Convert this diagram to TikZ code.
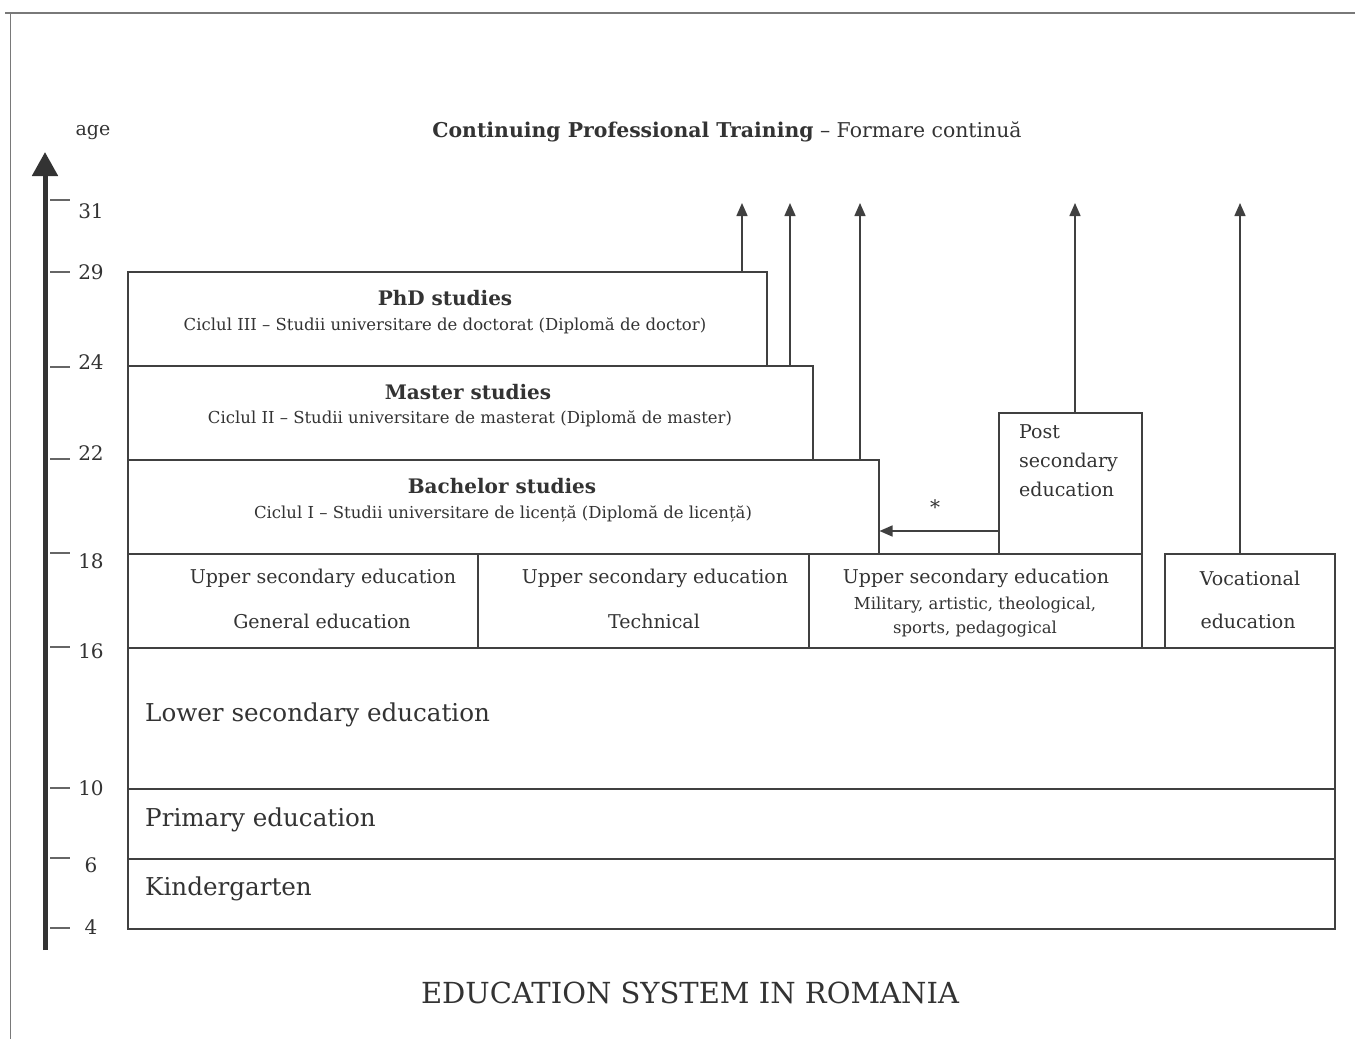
\documentclass[tikz,border=0pt]{standalone}
\usepackage{fontspec}
\setmainfont{DejaVu Serif}
\usetikzlibrary{arrows.meta}
\definecolor{ink}{HTML}{333333}
\definecolor{lin}{HTML}{404040}
\tikzset{
  box/.style={draw=lin, line width=1.5pt, fill=white, inner sep=0pt, anchor=north west},
  txt/.style={text=ink, inner sep=0pt, font=\fontsize{19}{22}\selectfont},
  sub/.style={text=ink, inner sep=0pt, font=\fontsize{16.5}{19}\selectfont},
  ttl/.style={text=ink, inner sep=0pt, font=\fontsize{20}{23}\selectfont\bfseries},
  big/.style={text=ink, inner sep=0pt, anchor=west, font=\fontsize{24.6}{28}\selectfont},
  agelbl/.style={text=ink, inner sep=0pt, font=\fontsize{20}{24}\selectfont},
  tickline/.style={draw=lin!80, line width=1.5pt},
  uparr/.style={draw=lin, line width=1.5pt, -{Triangle[length=13pt,width=11pt]}},
}
\begin{document}
\begin{tikzpicture}[x=1pt,y=-1pt]
\useasboundingbox (0,0) rectangle (1355,1039);
% frame
\draw[lin!70, line width=2pt] (5,13) -- (1355,13);
\draw[lin!70, line width=1pt] (10,13) -- (10,1039);

% age axis
\coordinate (axb) at (45,950);
\coordinate (axt) at (45,152);
\draw[draw=ink, line width=5pt, -{Triangle[length=24pt,width=25pt]}] (axb) -- (axt);
\node[agelbl, font=\fontsize{19}{22}\selectfont] (agel) at (93,133) {age};
\foreach \y/\l/\ly in {200/31/211, 272/29/272, 367/24/362, 459/22/453, 553/18/561, 647/16/651, 788/10/788, 858/6/865, 928/4/927}{
  \draw[tickline] (50,\y) -- (70,\y);
  \node[agelbl] (age\l) at (91,\ly) {\l};
}

% boxes
\node[box, minimum width=639, minimum height=94] (phd) at (127,271) {};
\node[box, minimum width=685, minimum height=94] (mas) at (127,365) {};
\node[box, minimum width=751, minimum height=94] (bac) at (127,459) {};
\node[box, minimum width=350, minimum height=94] (usg) at (127,553) {};
\node[box, minimum width=331, minimum height=94] (ust) at (477,553) {};
\node[box, minimum width=333, minimum height=94] (usm) at (808,553) {};
\node[box, minimum width=143, minimum height=141] (post) at (998,412) {};
\node[box, minimum width=170, minimum height=94] (voc) at (1164,553) {};
\node[box, minimum width=1207, minimum height=141] (low) at (127,647) {};
\node[box, minimum width=1207, minimum height=70] (pri) at (127,788) {};
\node[box, minimum width=1207, minimum height=70] (kin) at (127,858) {};

% texts
\node[text=ink, inner sep=0pt] (cpt) at (727,132) {\fontsize{20.4}{24}\selectfont\textbf{Continuing Professional Training} -- Formare continuă};
\node[ttl] (phdt) at (445,298) {PhD studies};
\node[sub] (phds) at (445,326) {Ciclul III -- Studii universitare de doctorat (Diplomă de doctor)};
\node[ttl] (mast) at (468,392) {Master studies};
\node[sub] (mass) at (470,419) {Ciclul II -- Studii universitare de masterat (Diplomă de master)};
\node[ttl] (bact) at (502,486) {Bachelor studies};
\node[sub] (bacs) at (503,514) {Ciclul I -- Studii universitare de licență (Diplomă de licență)};
\node[txt] (usg1) at (323,578) {Upper secondary education};
\node[txt] (usg2) at (322,621) {General education};
\node[txt] (ust1) at (655,578) {Upper secondary education};
\node[txt] (ust2) at (654,621) {Technical};
\node[txt] (usm1) at (976,578) {Upper secondary education};
\node[sub] (usm2) at (975,605) {Military, artistic, theological,};
\node[sub] (usm3) at (975,629) {sports, pedagogical};
\node[txt, anchor=north west, align=left, font=\fontsize{19}{29}\selectfont] (postt) at (1019,424) {Post\\secondary\\education};
\node[txt] (voc1) at (1250,578) {Vocational};
\node[txt] (voc2) at (1248,621) {education};
\node[big] (lowt) at (145,715) {Lower secondary education};
\node[big] (prit) at (145,820) {Primary education};
\node[big] (kint) at (145,889) {Kindergarten};
\node[text=ink, inner sep=0pt, font=\fontsize{29}{33}\selectfont] (cap) at (690,993) {EDUCATION SYSTEM IN ROMANIA};

% upward arrows
\coordinate (a1) at (742,203);
\coordinate (a2) at (790,203);
\coordinate (a3) at (860,203);
\coordinate (a4) at (1075,203);
\coordinate (a5) at (1240,203);
\draw[uparr] (phd.north -| a1) -- (a1);
\draw[uparr] (mas.north -| a2) -- (a2);
\draw[uparr] (bac.north -| a3) -- (a3);
\draw[uparr] (post.north -| a4) -- (a4);
\draw[uparr] (voc.north -| a5) -- (a5);

% post secondary -> bachelor
\coordinate (hy) at (0,531);
\draw[uparr] (post.west |- hy) -- (bac.east |- hy);
\node[text=ink, inner sep=0pt, font=\fontsize{20}{22}\selectfont] (star) at (935,507) {*};
\end{tikzpicture}
\end{document}
